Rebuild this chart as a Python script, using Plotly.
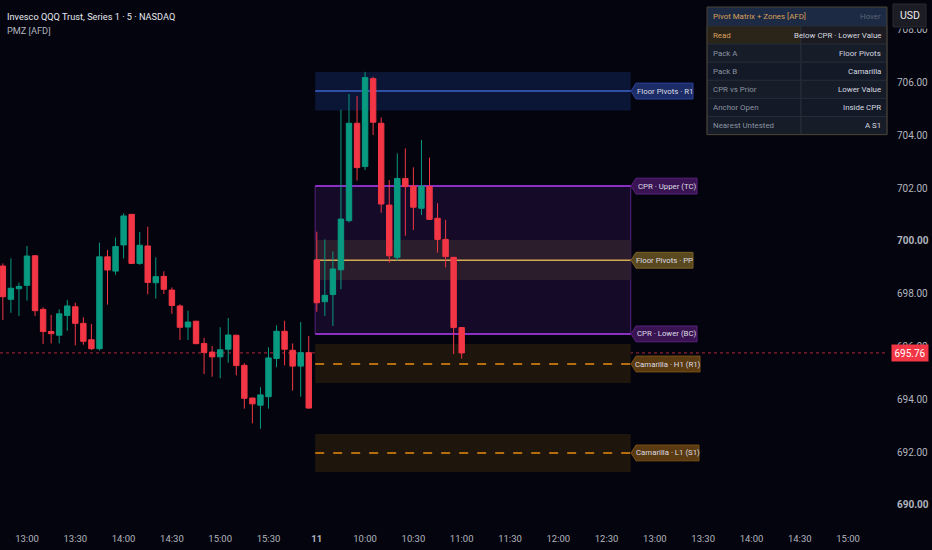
import plotly.graph_objects as go

# ---------------- data ----------------
times = ["12:45", "12:50", "12:55", "13:00", "13:05", "13:10", "13:15", "13:20", "13:25", "13:30",
         "13:35", "13:40", "13:45", "13:50", "13:55", "14:00", "14:05", "14:10", "14:15", "14:20",
         "14:25", "14:30", "14:35", "14:40", "14:45", "14:50", "14:55", "15:00", "15:05", "15:10",
         "15:15", "15:20", "15:25", "15:30", "15:35", "15:40", "15:45", "15:50", "15:55",
         "09:30", "09:35", "09:40", "09:45", "09:50", "09:55", "10:00", "10:05", "10:10", "10:15",
         "10:20", "10:25", "10:30", "10:35", "10:40", "10:45", "10:50", "10:55", "11:00"]
opens = [699.05, 697.79, 698.19, 698.32, 699.44, 697.41, 696.57, 696.43, 697.18, 697.51,
         696.88, 696.26, 695.92, 699.40, 698.86, 699.85, 701.01, 699.15, 699.81, 698.42,
         698.66, 698.14, 697.54, 696.74, 696.96, 696.12, 695.79, 695.61, 695.90, 696.43,
         695.29, 694.05, 693.78, 694.10, 695.55, 696.58, 695.86, 695.26, 695.77,
         699.28, 697.70, 697.97, 698.91, 700.77, 704.46, 702.82, 706.15, 704.46, 701.36,
         699.38, 702.37, 702.08, 701.24, 702.06, 700.86, 700.06, 699.38, 696.72]
highs = [699.15, 699.34, 698.42, 699.81, 699.47, 697.49, 697.20, 697.41, 697.77, 697.66,
         697.11, 696.86, 699.94, 699.66, 700.13, 701.05, 701.02, 700.34, 700.54, 699.38,
         698.85, 698.24, 697.60, 697.36, 696.98, 696.33, 696.02, 696.73, 697.08, 696.45,
         695.37, 694.07, 694.46, 695.97, 696.80, 696.98, 696.12, 696.93, 696.40,
         700.35, 700.06, 699.60, 704.98, 705.57, 705.49, 706.41, 706.22, 704.68, 702.31,
         703.32, 703.51, 702.79, 703.83, 703.16, 701.43, 700.80, 699.40, 696.74]
lows = [697.01, 697.28, 697.16, 697.74, 697.16, 696.10, 696.12, 696.12, 696.60, 696.05,
        696.07, 695.87, 695.85, 697.59, 698.72, 699.34, 699.13, 699.10, 697.98, 697.82,
        697.99, 697.24, 696.25, 696.25, 696.10, 694.96, 694.86, 694.80, 695.39, 694.91,
        693.65, 693.09, 692.89, 693.65, 695.22, 695.29, 694.33, 694.10, 693.65,
        697.32, 697.16, 696.78, 698.17, 700.70, 702.29, 702.69, 704.02, 701.07, 699.18,
        699.25, 700.20, 700.42, 700.98, 700.80, 699.56, 699.00, 695.72, 695.54]
closes = [697.89, 698.21, 698.28, 699.43, 697.36, 696.57, 696.49, 697.24, 697.54, 696.88,
          696.20, 695.92, 699.40, 698.90, 699.79, 700.95, 699.15, 699.84, 698.43, 698.65,
          698.17, 697.56, 696.73, 696.93, 696.11, 695.78, 695.61, 695.88, 696.44, 695.28,
          694.04, 693.83, 694.17, 695.57, 696.58, 695.90, 695.26, 695.77, 693.67,
          697.66, 697.94, 698.94, 700.83, 704.46, 702.78, 706.19, 704.50, 701.40, 699.44,
          702.37, 702.06, 701.28, 702.08, 700.82, 700.06, 699.41, 696.72, 695.76]

tick_bars = [3, 9, 15, 21, 27, 33, 39, 45, 51, 57, 63, 69, 75, 81, 87, 93, 99, 105]
tick_labels = ["13:00", "13:30", "14:00", "14:30", "15:00", "15:30", "<b>11</b>", "10:00", "10:30",
               "11:00", "11:30", "12:00", "12:30", "13:00", "13:30", "14:00", "14:30", "15:00"]
price_ticks = [690, 692, 694, 696, 698, 700, 702, 704, 706, 708]
price_tick_labels = ["<b>690.00</b>", "692.00", "694.00", "696.00", "698.00", "<b>700.00</b>",
                     "702.00", "704.00", "706.00", "708.00"]

# pivot levels and zones
r1_level, r1_zone = 705.68, (704.94, 706.40)
tc_level, bc_level = 702.08, 696.48
pp_level, pp_zone = 699.27, (698.52, 700.04)
h1_level, h1_zone = 695.34, (694.62, 696.10)
l1_level, l1_zone = 691.97, (691.25, 692.69)
zone_start_bar, zone_end_bar = 38.8, 78.0
last_price = 695.76

level_labels = ["Floor Pivots · R1", "CPR · Upper (TC)", "Floor Pivots · PP",
                "CPR · Lower (BC)", "Camarilla · H1 (R1)", "Camarilla · L1 (S1)"]
level_values = [r1_level, tc_level, pp_level, bc_level, h1_level, l1_level]

table_labels = ["Read", "Pack A", "Pack B", "CPR vs Prior", "Anchor Open", "Nearest Untested"]
table_values = ["Below CPR · Lower Value", "Floor Pivots", "Camarilla", "Lower Value",
                "Inside CPR", "A S1"]

# ---------------- styling ----------------
BG = "#04040e"
FONT = "Roboto"
UP, DOWN = "#089981", "#f23645"
PLOT_W, PLOT_H = 888, 520


def px(x):
    return x / PLOT_W


def py(y):
    return 1 - y / PLOT_H


bar_index = list(range(len(times)))

fig = go.Figure()
fig.add_trace(go.Candlestick(
    x=bar_index, open=opens, high=highs, low=lows, close=closes, text=times,
    increasing=dict(line=dict(color=UP, width=1), fillcolor=UP),
    decreasing=dict(line=dict(color=DOWN, width=1), fillcolor=DOWN),
    whiskerwidth=0, showlegend=False, hoverinfo="x+text"))

shapes = []
# zones
shapes.append(dict(type="rect", xref="x", yref="y", x0=zone_start_bar, x1=zone_end_bar,
                   y0=r1_zone[0], y1=r1_zone[1], fillcolor="#0b1536", line=dict(width=0), layer="below"))
shapes.append(dict(type="rect", xref="x", yref="y", x0=zone_start_bar, x1=zone_end_bar,
                   y0=bc_level, y1=tc_level, fillcolor="#150a28",
                   line=dict(color="#5a2080", width=1), layer="below"))
shapes.append(dict(type="rect", xref="x", yref="y", x0=zone_start_bar, x1=zone_end_bar,
                   y0=pp_zone[0], y1=pp_zone[1], fillcolor="#2b1d2c", line=dict(width=0), layer="below"))
for z in (h1_zone, l1_zone):
    shapes.append(dict(type="rect", xref="x", yref="y", x0=zone_start_bar, x1=zone_end_bar,
                       y0=z[0], y1=z[1], fillcolor="#1e150d", line=dict(width=0), layer="below"))
# level lines
shapes.append(dict(type="line", xref="x", yref="y", x0=zone_start_bar, x1=zone_end_bar,
                   y0=r1_level, y1=r1_level, line=dict(color="#3d62cc", width=1.5), layer="below"))
for lv in (tc_level, bc_level):
    shapes.append(dict(type="line", xref="x", yref="y", x0=zone_start_bar, x1=zone_end_bar,
                       y0=lv, y1=lv, line=dict(color="#8a2fc4", width=2), layer="below"))
shapes.append(dict(type="line", xref="x", yref="y", x0=zone_start_bar, x1=zone_end_bar,
                   y0=pp_level, y1=pp_level, line=dict(color="#d6aa55", width=1.5), layer="below"))
for lv in (h1_level, l1_level):
    shapes.append(dict(type="line", xref="x", yref="y", x0=zone_start_bar, x1=zone_end_bar,
                       y0=lv, y1=lv, line=dict(color="#e88a10", width=1.5, dash="dash"), layer="below"))
# last price dotted line
shapes.append(dict(type="line", xref="paper", yref="y", x0=0, x1=1, y0=last_price, y1=last_price,
                   line=dict(color="#b0283a", width=1, dash="dot"), layer="below"))

annotations = []
# level labels with pointer
label_bg = ["#1b2c66", "#3a1452", "#5a491f", "#3a1452", "#5a3a10", "#5a3a10"]
label_border = ["#2c43a0", "#5a2080", "#7a6428", "#5a2080", "#7a5016", "#7a5016"]
label_w = [57, 61, 57, 61, 64, 63]
half_h = 0.30
for name, lv, bgc, bdc, w in zip(level_labels, level_values, label_bg, label_border, label_w):
    xt, xl, xr = px(631), px(636), px(636 + w)
    path = (f"M {xt},{lv} L {xl},{lv + half_h} L {xr},{lv + half_h} "
            f"L {xr},{lv - half_h} L {xl},{lv - half_h} Z")
    shapes.append(dict(type="path", xref="paper", yref="y", path=path, fillcolor=bgc,
                       line=dict(color=bdc, width=1), layer="above"))
    annotations.append(dict(xref="paper", yref="y", x=px(636 + w / 2), y=lv, text=name,
                            showarrow=False, xanchor="center", yanchor="middle",
                            font=dict(family=FONT, size=7.8, color="#dcdce4")))

# table
tx0, tx1, tdiv = 707, 887, 801
ty0, head_h, row_h = 7, 19, 18.1
TFS = 7.9
shapes.append(dict(type="rect", xref="paper", yref="paper", x0=px(tx0), x1=px(tx1),
                   y0=py(ty0), y1=py(ty0 + head_h), fillcolor="#1c2a44", line=dict(width=0), layer="above"))
annotations.append(dict(xref="paper", yref="paper", x=px(tx0 + 4), y=py(ty0 + head_h / 2),
                        text="Pivot Matrix + Zones [AFD]", showarrow=False, xanchor="left",
                        yanchor="middle", font=dict(family=FONT, size=TFS, color="#d9a15a")))
annotations.append(dict(xref="paper", yref="paper", x=px(tx1 - 4), y=py(ty0 + head_h / 2),
                        text="Hover", showarrow=False, xanchor="right",
                        yanchor="middle", font=dict(family=FONT, size=TFS, color="#5d6475")))
row_left_bg = ["#2b2419", "#161c28", "#131926", "#161c28", "#131926", "#161c28"]
row_right_bg = ["#1c1b21", "#161c28", "#131926", "#161c28", "#131926", "#161c28"]
for i, (lab, val) in enumerate(zip(table_labels, table_values)):
    top = ty0 + head_h + i * row_h
    bot = top + row_h
    shapes.append(dict(type="rect", xref="paper", yref="paper", x0=px(tx0), x1=px(tdiv),
                       y0=py(top), y1=py(bot), fillcolor=row_left_bg[i],
                       line=dict(color="#262c38", width=1), layer="above"))
    shapes.append(dict(type="rect", xref="paper", yref="paper", x0=px(tdiv), x1=px(tx1),
                       y0=py(top), y1=py(bot), fillcolor=row_right_bg[i],
                       line=dict(color="#262c38", width=1), layer="above"))
    lc = "#d9a15a" if i == 0 else "#8b93a1"
    annotations.append(dict(xref="paper", yref="paper", x=px(tx0 + 4), y=py(top + row_h / 2),
                            text=lab, showarrow=False, xanchor="left", yanchor="middle",
                            font=dict(family=FONT, size=TFS, color=lc)))
    annotations.append(dict(xref="paper", yref="paper", x=px(tx1 - 4), y=py(top + row_h / 2),
                            text=val, showarrow=False, xanchor="right", yanchor="middle",
                            font=dict(family=FONT, size=TFS, color="#d6d9e0")))
table_bottom = ty0 + head_h + len(table_labels) * row_h
shapes.append(dict(type="rect", xref="paper", yref="paper", x0=px(tx0), x1=px(tx1),
                   y0=py(ty0), y1=py(table_bottom), fillcolor="rgba(0,0,0,0)",
                   line=dict(color="#4b4232", width=1), layer="above"))

# USD button (with a background margin that hides the top of the axis label below it)
shapes.append(dict(type="rect", xref="paper", yref="paper", x0=px(889), x1=px(932),
                   y0=py(0), y1=py(28.5), fillcolor=BG, line=dict(width=0), layer="above"))
shapes.append(dict(type="rect", xref="paper", yref="paper", x0=px(893), x1=px(926),
                   y0=py(4), y1=py(27), fillcolor="#1c1d24", line=dict(color="#2a2b33", width=1),
                   layer="above"))
annotations.append(dict(xref="paper", yref="paper", x=px(909.5), y=py(15.5), text="USD",
                        showarrow=False, xanchor="center", yanchor="middle",
                        font=dict(family=FONT, size=10.5, color="#e8e8ec")))
# last price tag
annotations.append(dict(xref="paper", yref="y", x=px(910), y=last_price, text=f"{last_price:.2f}",
                        showarrow=False, xanchor="center", yanchor="middle", bgcolor="#f23645",
                        width=34, height=14, borderpad=1,
                        font=dict(family=FONT, size=10, color="#ffffff")))
# titles
annotations.append(dict(xref="paper", yref="paper", x=px(5), y=py(16),
                        text="Invesco QQQ Trust, Series 1 · 5 · NASDAQ", showarrow=False,
                        xanchor="left", yanchor="middle",
                        font=dict(family=FONT, size=9.2, color="#e6e8ee")))
annotations.append(dict(xref="paper", yref="paper", x=px(5), y=py(30), text="PMZ [AFD]",
                        showarrow=False, xanchor="left", yanchor="middle",
                        font=dict(family=FONT, size=9.2, color="#b2b5be")))

fig.update_layout(
    width=932, height=550,
    margin=dict(l=0, r=44, t=0, b=30, pad=0),
    paper_bgcolor=BG, plot_bgcolor=BG,
    font=dict(family=FONT, color="#b2b5be"),
    shapes=shapes, annotations=annotations,
    showlegend=False, boxgap=0.25, boxgroupgap=0.1,
    xaxis=dict(range=[-0.354, 109.96], rangeslider=dict(visible=False), showgrid=False,
               zeroline=False, showline=False, tickmode="array", tickvals=tick_bars,
               ticktext=tick_labels, ticks="", tickfont=dict(family=FONT, size=9.5, color="#b2b5be"),
               ticklabelstandoff=11, fixedrange=True),
    yaxis=dict(range=[689.43, 709.13], side="right", showgrid=False, zeroline=False,
               showline=False, tickmode="array", tickvals=price_ticks, ticktext=price_tick_labels,
               ticks="", tickfont=dict(family=FONT, size=10, color="#b2b5be"),
               ticklabelstandoff=8, fixedrange=True),
)

fig.write_html("out.html", config={"displayModeBar": False},
               post_script="document.body.style.margin='0';document.body.style.background='#04040e';")
